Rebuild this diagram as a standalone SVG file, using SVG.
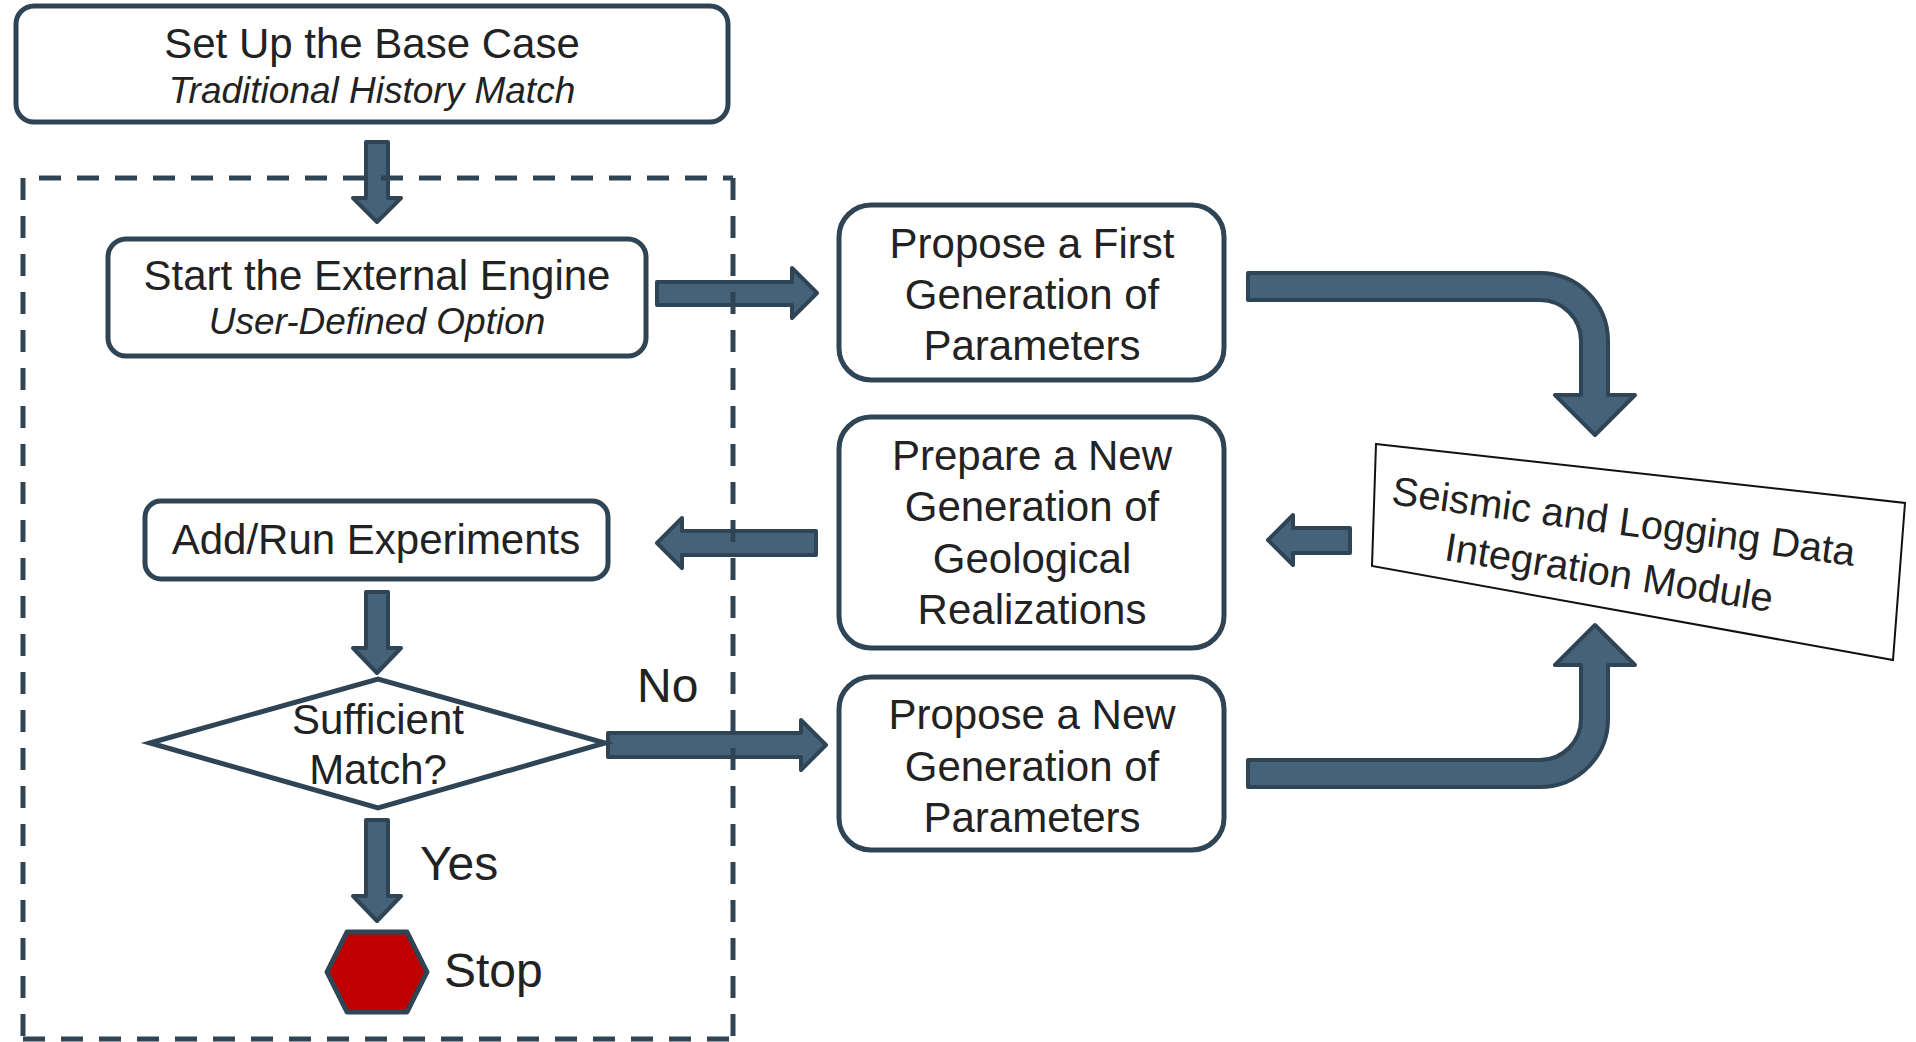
<svg xmlns="http://www.w3.org/2000/svg" width="1916" height="1042" viewBox="0 0 1916 1042">
<style>
.box{fill:#fff;stroke:#2f4455;stroke-width:5}
.arr{fill:#466279;stroke:#2f4455;stroke-width:4;stroke-linejoin:round}
.t{font-family:"Liberation Sans",Arial,sans-serif;font-size:42px;fill:#222;text-anchor:middle}
.i{font-family:"Liberation Sans",Arial,sans-serif;font-size:37px;fill:#222;text-anchor:middle;font-style:italic}
.l{font-family:"Liberation Sans",Arial,sans-serif;font-size:48px;fill:#222}
.m{font-family:"Liberation Sans",Arial,sans-serif;font-size:40px;fill:#222;text-anchor:middle}
.dash{stroke:#2f4455;stroke-width:5;stroke-dasharray:22 16;fill:none}
</style>
<rect width="1916" height="1042" fill="#fff"/>
<g id="connectors">
<path class="arr" d="M366,142 H388 V198 H401 L377,222 L353,198 H366 Z"/>
<path class="arr" d="M657,282 H792 V268 L817,293 L792,318 V305 H657 Z"/>
<path class="arr" d="M1350,528 H1293 V515 L1268,540 L1293,565 V553 H1350 Z"/>
<path class="arr" d="M816,531 H682 V518 L657,543 L682,568 V555 H816 Z"/>
<path class="arr" d="M366,592 H388 V648 H401 L377,673 L353,648 H366 Z"/>
<path class="arr" d="M608,733 H801 V720 L826,745 L801,770 V757 H608 Z"/>
<path class="arr" d="M366,820 H388 V896 H401 L377,921 L353,896 H366 Z"/>
<path class="arr" d="M1248,273 H1540 A68,68 0 0 1 1608,341 V395 H1635 L1595,435 L1555,395 H1581 V341 A41,41 0 0 0 1540,300 H1248 Z"/>
<path class="arr" d="M1248,787 H1540 A68,68 0 0 0 1608,719 V665 H1635 L1595,625 L1555,665 H1581 V719 A41,41 0 0 1 1540,760 H1248 Z"/>
</g>
<g id="base-case">
<rect class="box" x="16" y="6" width="712" height="116" rx="18"/>
<text class="t" x="372" y="58">Set Up the Base Case</text>
<text class="i" x="372" y="103">Traditional History Match</text>
</g>
<g id="external-engine">
<rect class="box" x="108" y="239" width="538" height="117" rx="18"/>
<text class="t" x="377" y="290">Start the External Engine</text>
<text class="i" x="377" y="334">User-Defined Option</text>
</g>
<g id="first-generation">
<rect class="box" x="839" y="205" width="385" height="175" rx="32"/>
<text class="t" x="1032" y="258">Propose a First</text>
<text class="t" x="1032" y="309">Generation of</text>
<text class="t" x="1032" y="360">Parameters</text>
</g>
<g id="geological-realizations">
<rect class="box" x="839" y="417" width="385" height="231" rx="32"/>
<text class="t" x="1032" y="470">Prepare a New</text>
<text class="t" x="1032" y="521">Generation of</text>
<text class="t" x="1032" y="573">Geological</text>
<text class="t" x="1032" y="624">Realizations</text>
</g>
<g id="new-generation">
<rect class="box" x="839" y="677" width="385" height="173" rx="32"/>
<text class="t" x="1032" y="729">Propose a New</text>
<text class="t" x="1032" y="781">Generation of</text>
<text class="t" x="1032" y="832">Parameters</text>
</g>
<g id="experiments">
<rect class="box" x="145" y="501" width="463" height="78" rx="16"/>
<text class="t" x="376" y="554">Add/Run Experiments</text>
</g>
<g id="sufficient-match">
<polygon class="box" points="150,743 378,679 605,743 378,808"/>
<text class="t" x="378" y="734">Sufficient</text>
<text class="t" x="378" y="784">Match?</text>
</g>
<g id="labels">
<text class="l" x="637" y="702">No</text>
<text class="l" x="420" y="880">Yes</text>
</g>
<g id="stop">
<polygon points="327,972 347,932 407,932 427,972 407,1012 347,1012" fill="#c00000" stroke="#2f4455" stroke-width="5" stroke-linejoin="round"/>
<text class="l" x="444" y="987">Stop</text>
</g>
<g id="integration-module">
<polygon points="1376,444 1905,503 1893,660 1372,566" fill="#fff" stroke="#111" stroke-width="2"/>
<text class="m" x="1622" y="535" transform="rotate(7.6 1622 535)">Seismic and Logging Data</text>
<text class="m" x="1607" y="586" transform="rotate(9 1607 586)">Integration Module</text>
</g>
<g id="loop-boundary">
<line class="dash" x1="23" y1="178" x2="733" y2="178" stroke-dashoffset="22"/>
<line class="dash" x1="23" y1="178" x2="23" y2="1039"/>
<line class="dash" x1="733" y1="178" x2="733" y2="1039"/>
<line class="dash" x1="23" y1="1039" x2="733" y2="1039"/>
</g>
</svg>
